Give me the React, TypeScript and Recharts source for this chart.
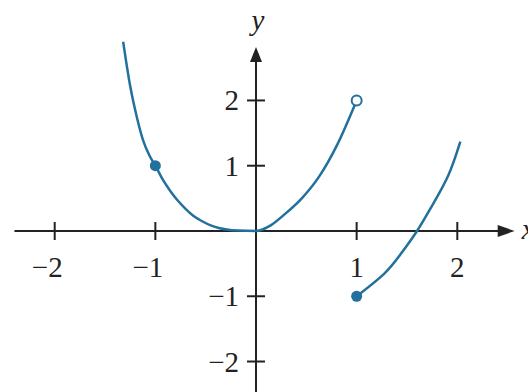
import { ComposedChart, Line, ReferenceDot, ReferenceLine, XAxis, YAxis } from "recharts";

// curve pieces
const leftX = [-1.32, -1.25, -1.18, -1.12, -1.06, -1, -0.92, -0.85, -0.78, -0.7, -0.62, -0.53, -0.45, -0.37, -0.29, -0.18, 0];
const leftY = [2.9, 2.22, 1.72, 1.38, 1.16, 1, 0.77, 0.61, 0.47, 0.34, 0.23, 0.145, 0.085, 0.047, 0.022, 0.006, 0];
const midX = [0.15, 0.28, 0.455, 0.63, 0.8, 1];
const midY = [0.09, 0.25, 0.5, 0.84, 1.3, 2];
const rightX = [1, 1.27, 1.43, 1.6, 1.75, 1.91, 2.03];
const rightY = [-1, -0.66, -0.37, 0, 0.39, 0.85, 1.37];

// end points
const filledX = [-1, 1];
const filledY = [1, -1];
const openX = [1];
const openY = [2];

// ticks
const xTicks = [-2, -1, 1, 2];
const xTickLabels = ["−2", "−1", "1", "2"];
const yTicks = [-2, -1, 1, 2];
const yTickLabels = ["−2", "−1", "1", "2"];

const X_DOMAIN = [-2.5435, 2.7024];
const Y_DOMAIN = [-2.467, 3.539];
const X_AXIS_FROM = -2.4;
const X_AXIS_TO = 2.57;
const Y_AXIS_FROM = -2.47;
const Y_AXIS_TO = 2.82;

const BLUE = "#22709c";
const INK = "#222";
const FONT = "Liberation Serif";
const FS = 29;

const zip = (xs: number[], ys: number[]) => xs.map((x, i) => ({ x, y: ys[i] }));

const leftData = zip([...leftX, ...midX], [...leftY, ...midY]);
const rightData = zip(rightX, rightY);
const yAxisData = [
	{ x: 0, y: Y_AXIS_FROM },
	{ x: 0, y: Y_AXIS_TO - 0.2 },
];

const xTick = (label: string, neg: boolean) => (props: any) => {
	const { cx, cy } = props;
	return (
		<g>
			<line x1={cx} x2={cx} y1={cy - 9} y2={cy + 9} stroke={INK} strokeWidth={2} />
			<text
				x={neg ? cx + 8 : cx}
				y={cy + 46}
				textAnchor={neg ? "end" : "middle"}
				style={{ fontFamily: FONT, fontSize: FS }}
				fill={INK}
			>
				{label}
			</text>
		</g>
	);
};

const yTick = (label: string) => (props: any) => {
	const { cx, cy } = props;
	return (
		<g>
			<line x1={cx - 9} x2={cx + 9} y1={cy} y2={cy} stroke={INK} strokeWidth={2} />
			<text x={cx - 17} y={cy + 10} textAnchor="end" style={{ fontFamily: FONT, fontSize: FS }} fill={INK}>
				{label}
			</text>
		</g>
	);
};

const RightArrow = (props: any) => {
	const { cx, cy } = props;
	return (
		<g>
			<path d={`M${cx},${cy} L${cx - 17},${cy - 6} L${cx - 17},${cy + 6} Z`} fill={INK} />
			<text x={cx + 7} y={cy + 8} style={{ fontFamily: FONT, fontSize: FS, fontStyle: "italic" }} fill={INK}>
				x
			</text>
		</g>
	);
};

const UpArrow = (props: any) => {
	const { cx, cy } = props;
	return (
		<g>
			<path d={`M${cx},${cy} L${cx - 6},${cy + 15} L${cx + 6},${cy + 15} Z`} fill={INK} />
			<text
				x={cx + 2}
				y={cy - 17}
				textAnchor="middle"
				style={{ fontFamily: FONT, fontSize: FS, fontStyle: "italic" }}
				fill={INK}
			>
				y
			</text>
		</g>
	);
};

const FilledDot = (props: any) => <circle cx={props.cx} cy={props.cy} r={5.5} fill={BLUE} />;
const OpenDot = (props: any) => (
	<circle cx={props.cx} cy={props.cy} r={5} fill="#fff" stroke={BLUE} strokeWidth={2} />
);

export default function App() {
	return (
		<div style={{ position: "absolute", left: 0, top: 0, width: 528, height: 392, background: "#fff" }}>
			<ComposedChart width={528} height={392} margin={{ top: 0, right: 0, bottom: 0, left: 0 }}>
				<XAxis type="number" dataKey="x" domain={X_DOMAIN} allowDataOverflow hide />
				<YAxis type="number" dataKey="y" domain={Y_DOMAIN} allowDataOverflow hide />
				<ReferenceLine
					segment={[
						{ x: X_AXIS_FROM, y: 0 },
						{ x: X_AXIS_TO - 0.1, y: 0 },
					]}
					stroke={INK}
					strokeWidth={2}
				/>
				<Line
					data={yAxisData}
					dataKey="y"
					type="linear"
					stroke={INK}
					strokeWidth={2}
					dot={false}
					activeDot={false}
					isAnimationActive={false}
				/>
				<Line
					data={leftData}
					dataKey="y"
					type="monotone"
					stroke={BLUE}
					strokeWidth={2.5}
					dot={false}
					activeDot={false}
					isAnimationActive={false}
				/>
				<Line
					data={rightData}
					dataKey="y"
					type="natural"
					stroke={BLUE}
					strokeWidth={2.5}
					dot={false}
					activeDot={false}
					isAnimationActive={false}
				/>
				{xTicks.map((x, i) => (
					<ReferenceDot key={`xt${x}`} x={x} y={0} r={1} shape={xTick(xTickLabels[i], x < 0)} />
				))}
				{yTicks.map((y, i) => (
					<ReferenceDot key={`yt${y}`} x={0} y={y} r={1} shape={yTick(yTickLabels[i])} />
				))}
				<ReferenceDot x={X_AXIS_TO} y={0} r={1} shape={RightArrow} />
				<ReferenceDot x={0} y={Y_AXIS_TO} r={1} shape={UpArrow} />
				{filledX.map((x, i) => (
					<ReferenceDot key={`f${x}`} x={x} y={filledY[i]} r={5.5} shape={FilledDot} />
				))}
				{openX.map((x, i) => (
					<ReferenceDot key={`o${x}`} x={x} y={openY[i]} r={5} shape={OpenDot} />
				))}
			</ComposedChart>
		</div>
	);
}
